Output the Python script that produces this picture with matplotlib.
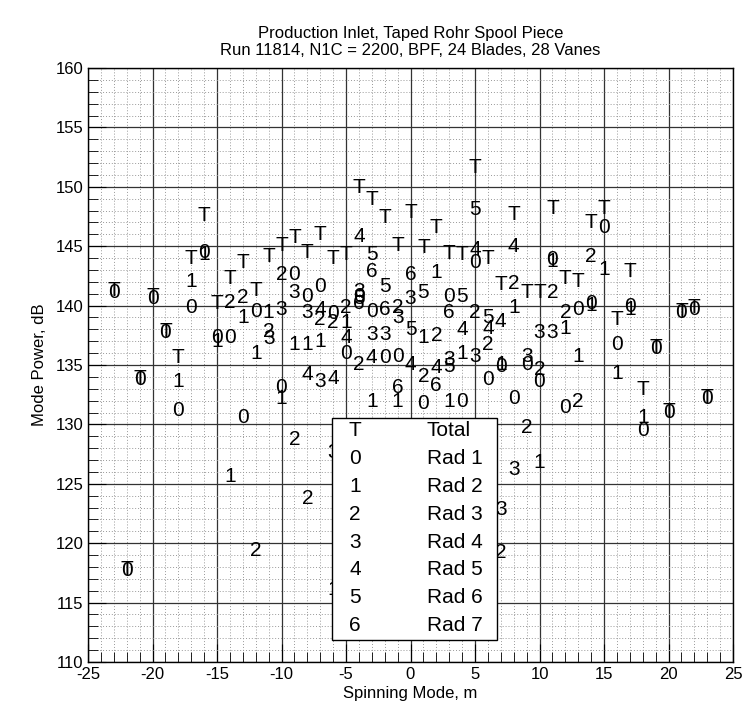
import numpy as np
import matplotlib.pyplot as plt
from matplotlib.ticker import MultipleLocator
from matplotlib.patches import Rectangle

plt.rcParams['font.family'] = ['Liberation Sans', 'DejaVu Sans']
plt.rcParams['axes.unicode_minus'] = False

# Total power per spinning mode
t_m = list(range(-23, 24))
t_db = [141.3, 117.8, 133.9, 140.8, 137.8, 135.6, 144.0, 147.6, 140.2, 142.3,
        143.6, 141.3, 144.1, 145.1, 145.7, 144.5, 146.0, 144.0, 144.3, 149.9,
        148.9, 147.4, 145.1, 147.8, 144.9, 146.6, 144.4, 144.3, 151.6, 144.0,
        141.8, 147.7, 141.1, 141.1, 148.2, 142.3, 142.0, 147.0, 148.2, 138.8,
        142.9, 132.9, 136.5, 131.1, 139.5, 139.8, 132.3]

# Radial modes
r1_m = [-23, -22, -21, -20, -19, -18, -17, -16, -15, -14, -13, -12, -10, -9, -8, -7, -6, -5, -4, -3, -2, -1,
        1, 3, 4, 5, 6, 7, 8, 9, 10, 11, 12, 13, 14, 15, 16, 17, 18, 19, 20, 21, 22, 23]
r1_db = [141.1, 117.7, 133.8, 140.6, 137.7, 131.2, 139.8, 144.5, 137.3, 137.3, 130.6, 139.5,
         133.1, 142.6, 140.8, 141.6, 139.3, 136.0, 140.8, 139.5, 135.6, 135.7,
         131.8, 140.8, 131.9, 143.6, 133.8, 134.9, 132.2, 135.0, 133.6, 143.9, 131.4, 139.7,
         140.2, 146.6, 136.7, 139.9, 129.5, 136.4, 131.0, 139.4, 139.7, 132.2]

r2_m = [-18, -17, -16, -15, -14, -13, -12, -11, -10, -9, -8, -7, -6, -5, -3, -1,
        1, 2, 3, 4, 7, 8, 10, 11, 12, 13, 14, 15, 16, 17, 18]
r2_db = [133.6, 142.0, 144.3, 137.0, 125.6, 139.0, 136.0, 139.4, 132.2, 136.7, 136.7, 137.0,
         116.1, 138.6, 131.9, 131.9, 137.3, 142.8, 131.9, 136.0, 135.0, 139.8, 126.8, 143.7,
         138.1, 135.7, 140.0, 143.0, 134.3, 139.7, 130.6]

r3_m = [-14, -13, -12, -11, -10, -9, -8, -7, -6, -5, -4, -1, 1, 2, 5, 6, 7, 8, 9, 10, 11, 12, 13, 14]
r3_db = [140.3, 140.7, 119.4, 137.8, 142.6, 128.7, 123.8, 138.8, 138.6, 139.8, 135.0, 139.8,
         134.0, 137.5, 139.4, 136.7, 119.2, 141.9, 129.7, 134.6, 141.1, 139.4, 131.9, 144.1]

r4_m = [-11, -10, -9, -8, -7, -6, -4, -3, -2, -1, 0, 3, 5, 7, 8, 9, 10, 11]
r4_db = [137.2, 139.7, 141.1, 139.4, 133.6, 127.6, 141.2, 137.6, 137.6, 139.0, 140.6,
         135.5, 135.7, 122.8, 126.2, 135.7, 137.7, 137.7]

r5_m = [-8, -7, -6, -5, -4, -3, 0, 2, 4, 5, 6, 7, 8]
r5_db = [134.2, 139.7, 133.9, 137.3, 145.8, 135.6, 135.0, 134.8, 138.0, 144.7, 138.1, 138.7, 145.0]

r6_m = [-4, -3, -2, 0, 1, 3, 4, 5, 6]
r6_db = [140.6, 144.3, 141.6, 138.0, 141.1, 134.9, 140.8, 148.1, 139.0]

r7_m = [-4, -3, -2, -1, 0, 2, 3]
r7_db = [140.2, 142.9, 139.7, 133.1, 142.6, 133.3, 139.4]

symbols = ["T", "0", "1", "2", "3", "4", "5", "6"]
labels = ["Total", "Rad 1", "Rad 2", "Rad 3", "Rad 4", "Rad 5", "Rad 6", "Rad 7"]
series = [(t_m, t_db), (r1_m, r1_db), (r2_m, r2_db), (r3_m, r3_db),
          (r4_m, r4_db), (r5_m, r5_db), (r6_m, r6_db), (r7_m, r7_db)]

fig = plt.figure(figsize=(7.45, 7.17), dpi=100)
ax = fig.add_axes([88 / 745, 55 / 717, 645 / 745, 594 / 717])

# Draw the text markers
for sym, (ms, dbs) in zip(symbols, series):
    for m, db in zip(ms, dbs):
        ax.text(m, db, sym, fontsize=15, ha="center", va="center", clip_on=True, zorder=3)

ax.set_xlim(-25, 25)
ax.set_ylim(110, 160)
ax.xaxis.set_major_locator(MultipleLocator(5))
ax.xaxis.set_minor_locator(MultipleLocator(1))
ax.yaxis.set_major_locator(MultipleLocator(5))
ax.yaxis.set_minor_locator(MultipleLocator(1))
ax.grid(which="major", color="#333333", linewidth=0.9, linestyle="-")
ax.grid(which="minor", color="#999999", linewidth=0.7, linestyle=(0, (1, 2)))
ax.set_axisbelow(True)
ax.tick_params(which="both", direction="in", top=False, right=False, labelsize=12)
ax.tick_params(which="major", length=13)
ax.tick_params(which="minor", length=7)
for s in ax.spines.values():
    s.set_linewidth(1.0)

ax.set_xlabel("Spinning Mode, m", fontsize=12, labelpad=3)
ax.set_ylabel("Mode Power, dB", fontsize=12, labelpad=6)
ax.set_title("Production Inlet, Taped Rohr Spool Piece\nRun 11814, N1C = 2200, BPF, 24 Blades, 28 Vanes",
             fontsize=12, pad=9)

# Legend box
box = Rectangle((0.378, 0.037), 0.256, 0.374, transform=ax.transAxes,
                facecolor="white", edgecolor="black", linewidth=1.0, zorder=5)
ax.add_patch(box)
for i, (sym, lab) in enumerate(zip(symbols, labels)):
    yy = 0.390 - i * 0.047
    ax.text(0.414, yy, sym, transform=ax.transAxes, fontsize=15, ha="center", va="center", zorder=6)
    ax.text(0.525, yy, lab, transform=ax.transAxes, fontsize=15, ha="left", va="center", zorder=6)

fig.savefig("out.png", dpi=100)
